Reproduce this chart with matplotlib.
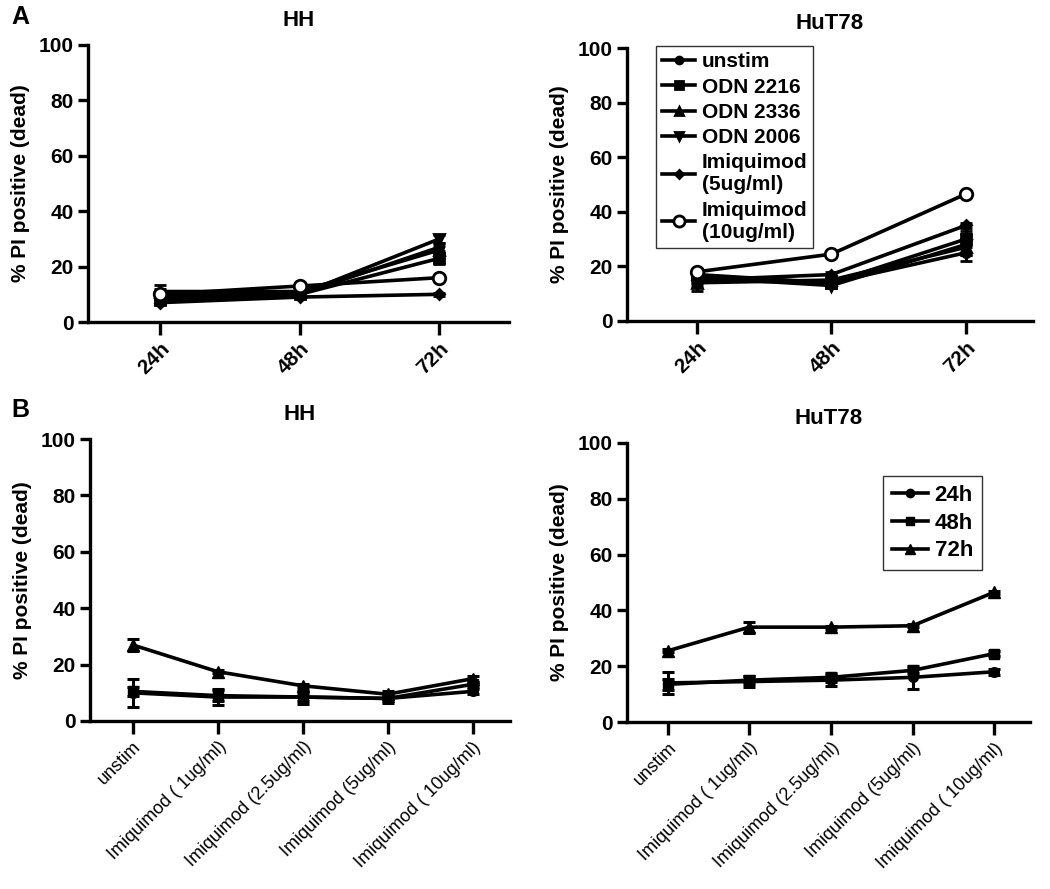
import numpy as np
import matplotlib
matplotlib.use("Agg")
import matplotlib.pyplot as plt
from matplotlib.lines import Line2D

plt.rcParams['font.family'] = ['Liberation Sans', 'DejaVu Sans']

# panel A: time course per treatment
times = ['24h', '48h', '72h']
treat_labels = ['unstim', 'ODN 2216', 'ODN 2336', 'ODN 2006',
                'Imiquimod\n(5ug/ml)', 'Imiquimod\n(10ug/ml)']

hh_time = {
    'unstim':   [10, 10, 27],
    'ODN 2216': [8, 10, 23],
    'ODN 2336': [11, 11, 26],
    'ODN 2006': [9, 10, 30],
    'imiq5':    [7, 9, 10],
    'imiq10':   [10, 13, 16],
}
hh_time_err = {
    'unstim':   [2, 1, 1.5],
    'ODN 2216': [1.5, 1, 2],
    'ODN 2336': [2.5, 1, 1.5],
    'ODN 2006': [1.5, 1, 1.5],
    'imiq5':    [0.5, 0.5, 0.5],
    'imiq10':   [1, 0.5, 0.5],
}
hut_time = {
    'unstim':   [15, 14, 25],
    'ODN 2216': [17, 14, 30],
    'ODN 2336': [14, 15, 27],
    'ODN 2006': [16, 13, 28],
    'imiq5':    [15, 17, 35],
    'imiq10':   [18, 24.5, 46.5],
}
hut_time_err = {
    'unstim':   [2, 1, 3],
    'ODN 2216': [2, 1, 3],
    'ODN 2336': [3, 1, 3],
    'ODN 2006': [2, 1, 4],
    'imiq5':    [1, 1, 1],
    'imiq10':   [1, 1, 1],
}

# panel B: dose response per time point
doses = ['unstim', 'Imiquimod ( 1ug/ml)', 'Imiquimod (2.5ug/ml)',
         'Imiquimod (5ug/ml)', 'Imiquimod ( 10ug/ml)']
hh_24 = [10, 8.5, 8.5, 8, 10.5]
hh_48 = [10.5, 9, 8.5, 8, 13]
hh_72 = [27, 17.5, 12.5, 9.5, 15]
hh_24_err = [5, 3, 2.5, 1.5, 1]
hh_48_err = [1.5, 2, 1.5, 1, 1]
hh_72_err = [2, 0.5, 0.5, 1, 1]

hut_24 = [14, 14.5, 15, 16, 18]
hut_48 = [13.5, 15, 16, 18.5, 24.5]
hut_72 = [25.5, 34, 34, 34.5, 46.5]
hut_24_err = [4, 2, 2, 4, 1]
hut_48_err = [2, 1.5, 1.5, 1, 1]
hut_72_err = [0.5, 2, 0.5, 0.5, 0.5]

markers_a = ['o', 's', '^', 'v', 'D', 'o']
sizes_a = [6, 7, 7, 7, 5, 9]
keys_a = ['unstim', 'ODN 2216', 'ODN 2336', 'ODN 2006', 'imiq5', 'imiq10']

LW = 2.6
FS = 15


def style_axes(ax, title):
    ax.set_ylim(0, 100)
    ax.set_yticks([0, 20, 40, 60, 80, 100])
    for s in ['top', 'right']:
        ax.spines[s].set_visible(False)
    for s in ['left', 'bottom']:
        ax.spines[s].set_linewidth(2.4)
    ax.tick_params(width=2.4, length=7, labelsize=FS)
    ax.tick_params(axis='x', length=9)
    for lab in ax.get_yticklabels():
        lab.set_fontweight('bold')
    ax.set_ylabel('% PI positive (dead)', fontsize=FS, fontweight='bold', labelpad=6)
    ax.set_title(title, fontsize=FS + 1, fontweight='bold', pad=14)


fig = plt.figure(figsize=(10.5, 8.89), dpi=100)

def px_axes(left, right, top, bottom):
    W, H = 1050, 889
    return fig.add_axes([left / W, 1 - bottom / H, (right - left) / W, (bottom - top) / H])

ax1 = px_axes(88, 509, 45, 322)
ax2 = px_axes(627, 1033, 48, 321)
ax3 = px_axes(90, 510, 439, 721)
ax4 = px_axes(627, 1030, 443, 722)

handles_a = []
for ax, data, err, title in [(ax1, hh_time, hh_time_err, 'HH'),
                             (ax2, hut_time, hut_time_err, 'HuT78')]:
    x = np.arange(len(times))
    handles_a = []
    for k, m, ms, lab in zip(keys_a, markers_a, sizes_a, treat_labels):
        face = 'white' if k == 'imiq10' else 'black'
        ax.errorbar(x, data[k], yerr=err[k], color='black', marker=m, ms=ms,
                    mfc=face, mec='black', mew=2, lw=LW, capsize=4, capthick=2.2,
                    elinewidth=2.2)
        handles_a.append(Line2D([], [], color='black', marker=m, ms=ms - 1,
                                mfc=face, mec='black', mew=2, lw=LW, label=lab))
    ax.set_xlim(-0.52, 2.5)
    ax.set_xticks(x)
    ax.set_xticklabels(times, rotation=45, ha='right', rotation_mode='anchor',
                       fontweight='bold')
    style_axes(ax, title)

leg = ax2.legend(handles=handles_a, loc='upper left', bbox_to_anchor=(0.045, 1.045),
                 frameon=True, fancybox=False, edgecolor='black', fontsize=FS,
                 handlelength=1.6, handletextpad=0.3, labelspacing=0.3, borderpad=0.3)
leg.get_frame().set_linewidth(1.0)
for t in leg.get_texts():
    t.set_fontweight('bold')

handles_b = []
for ax, d24, d48, d72, e24, e48, e72, title in [
        (ax3, hh_24, hh_48, hh_72, hh_24_err, hh_48_err, hh_72_err, 'HH'),
        (ax4, hut_24, hut_48, hut_72, hut_24_err, hut_48_err, hut_72_err, 'HuT78')]:
    x = np.arange(len(doses))
    handles_b = []
    for vals, e, m, ms, lab in [(d24, e24, 'o', 7, '24h'),
                                (d48, e48, 's', 7, '48h'),
                                (d72, e72, '^', 8, '72h')]:
        ax.errorbar(x, vals, yerr=e, color='black', marker=m, ms=ms, lw=LW,
                    capsize=4, capthick=2.2, elinewidth=2.2)
        handles_b.append(Line2D([], [], color='black', marker=m, ms=ms - 1, lw=LW, label=lab))
    ax.set_xlim(-0.5, 4.44)
    ax.set_xticks(x)
    ax.set_xticklabels(doses, rotation=45, ha='right', rotation_mode='anchor')
    style_axes(ax, title)
    ax.tick_params(axis='x', labelsize=13)

leg2 = ax4.legend(handles=handles_b, loc='upper right', bbox_to_anchor=(0.908, 0.921),
                  frameon=True, fancybox=False, edgecolor='black', fontsize=FS + 1,
                  handlelength=1.6, handletextpad=0.3, labelspacing=0.3, borderpad=0.4)
leg2.get_frame().set_linewidth(1.0)
for t in leg2.get_texts():
    t.set_fontweight('bold')

fig.text(20 / 1050, 1 - 17 / 889, 'A', fontsize=18, fontweight='bold', ha='center', va='center')
fig.text(20 / 1050, 1 - 410 / 889, 'B', fontsize=18, fontweight='bold', ha='center', va='center')

fig.savefig('out.png', dpi=100)
